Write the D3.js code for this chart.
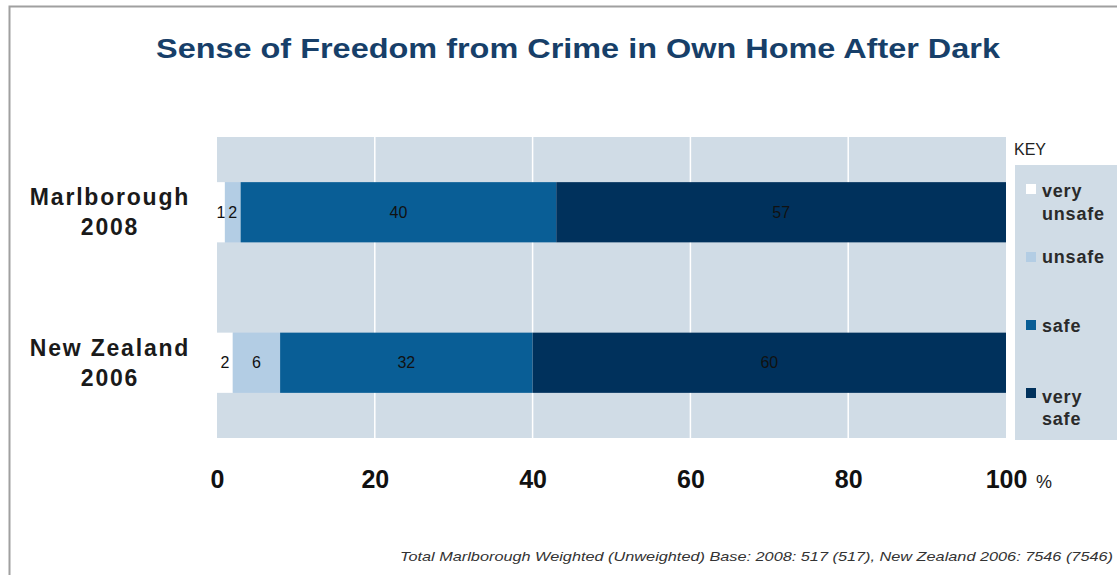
<!DOCTYPE html>
<html>
<head>
<meta charset="utf-8">
<script src="https://cdn.jsdelivr.net/npm/d3@7/dist/d3.min.js"></script>
<style>
  html, body { margin: 0; padding: 0; background: #fff; }
  svg { display: block; font-family: "Liberation Sans", Arial, sans-serif; }
</style>
</head>
<body>
<svg id="chart" width="1117" height="575"></svg>
<script>
// Survey responses (percent of respondents)
const categories = ["Marlborough 2008", "New Zealand 2006"];
const categoryLines = [["Marlborough", "2008"], ["New Zealand", "2006"]];
const seriesNames = ["very unsafe", "unsafe", "safe", "very safe"];
const veryUnsafe = [1, 2];
const unsafe = [2, 6];
const safe = [40, 32];
const verySafe = [57, 60];
const tickValues = [0, 20, 40, 60, 80, 100];
const title = "Sense of Freedom from Crime in Own Home After Dark";
const footnote = "Total Marlborough Weighted (Unweighted) Base: 2008: 517 (517), New Zealand 2006: 7546 (7546)";

const colors = ["#ffffff", "#b3cde4", "#095e96", "#00315c"];
const plotBg = "#d0dce6";

const rows = categories.map((c, i) => ({
  category: c,
  "very unsafe": veryUnsafe[i],
  "unsafe": unsafe[i],
  "safe": safe[i],
  "very safe": verySafe[i]
}));

const svg = d3.select("#chart");

// outer frame (top and left edges)
svg.append("path")
  .attr("d", "M9.5,575 L9.5,6.5 L1117,6.5")
  .attr("fill", "none")
  .attr("stroke", "#a0a0a0")
  .attr("stroke-width", 2);

// title
svg.append("text")
  .attr("x", 156).attr("y", 58)
  .attr("textLength", 844)
  .attr("lengthAdjust", "spacingAndGlyphs")
  .attr("font-size", 27).attr("font-weight", "bold")
  .attr("fill", "#173f69")
  .text(title);

const x = d3.scaleLinear().domain([0, 100]).range([217, 1006]);
const y = d3.scaleBand().domain(categories).range([137, 438])
  .paddingInner(0.6).paddingOuter(0.3);

// plot background
svg.append("rect")
  .attr("x", x(0)).attr("y", 137)
  .attr("width", x(100) - x(0)).attr("height", 438 - 137)
  .attr("fill", plotBg);

// vertical gridlines
svg.append("g").selectAll("line")
  .data(tickValues.filter(t => t > 0 && t < 100))
  .join("line")
  .attr("x1", d => x(d)).attr("x2", d => x(d))
  .attr("y1", 137).attr("y2", 438)
  .attr("stroke", "#ffffff").attr("stroke-width", 1.5);

const stacked = d3.stack().keys(seriesNames)(rows);

// stacked bars
const layers = svg.append("g").selectAll("g")
  .data(stacked)
  .join("g")
  .attr("fill", (d, i) => colors[i]);

layers.selectAll("rect")
  .data(d => d)
  .join("rect")
  .attr("x", d => x(d[0]))
  .attr("y", d => y(d.data.category))
  .attr("width", d => x(d[1]) - x(d[0]))
  .attr("height", y.bandwidth());

// segment value labels
layers.selectAll("text")
  .data(d => d.map(s => ({ s, key: d.key })))
  .join("text")
  .attr("x", d => (x(d.s[0]) + x(d.s[1])) / 2)
  .attr("y", d => y(d.s.data.category) + y.bandwidth() / 2)
  .attr("dy", "0.35em")
  .attr("text-anchor", "middle")
  .attr("font-size", 16)
  .attr("fill", "#111")
  .text(d => d.s.data[d.key]);

// category labels
const catG = svg.append("g");
categories.forEach((c, i) => {
  const cy = y(c) + y.bandwidth() / 2;
  const t = catG.append("text")
    .attr("text-anchor", "middle")
    .attr("font-size", 23).attr("font-weight", "bold")
    .attr("letter-spacing", 1.8)
    .attr("fill", "#1a1a1a");
  t.append("tspan").attr("x", 110).attr("y", cy - 7).text(categoryLines[i][0]);
  t.append("tspan").attr("x", 110).attr("y", cy + 23).text(categoryLines[i][1]);
});

// x axis
const xAxis = d3.axisBottom(x)
  .tickValues(tickValues)
  .tickSize(0)
  .tickPadding(32)
  .tickFormat(d3.format("d"));

const axG = svg.append("g")
  .attr("transform", "translate(0,438)")
  .call(xAxis);
axG.select(".domain").remove();
axG.selectAll("text")
  .attr("font-size", 25).attr("font-weight", "bold")
  .attr("font-family", "'Liberation Sans', Arial, sans-serif")
  .attr("fill", "#111");

svg.append("text")
  .attr("x", 1036).attr("y", 488)
  .attr("font-size", 18)
  .attr("fill", "#222")
  .text("%");

// legend
svg.append("text")
  .attr("x", 1014).attr("y", 155)
  .attr("font-size", 16)
  .attr("fill", "#222")
  .text("KEY");

svg.append("rect")
  .attr("x", 1015).attr("y", 165)
  .attr("width", 120).attr("height", 275)
  .attr("fill", plotBg);

const legendLayout = [
  { sq: 184, lines: [196.5, 220] },
  { sq: 252, lines: [263] },
  { sq: 320, lines: [331.5] },
  { sq: 388, lines: [402.5, 425] }
];

const legG = svg.append("g");
seriesNames.forEach((name, i) => {
  const L = legendLayout[i];
  legG.append("rect")
    .attr("x", 1026).attr("y", L.sq)
    .attr("width", 10).attr("height", 10)
    .attr("fill", colors[i]);
  const words = L.lines.length > 1 ? name.split(" ") : [name];
  const t = legG.append("text")
    .attr("font-size", 18).attr("font-weight", "bold")
    .attr("letter-spacing", 0.8)
    .attr("fill", "#2a2a2a");
  words.forEach((w, k) => {
    t.append("tspan").attr("x", 1042).attr("y", L.lines[k]).text(w);
  });
});

// base note
svg.append("text")
  .attr("x", 400).attr("y", 561)
  .attr("textLength", 713)
  .attr("lengthAdjust", "spacingAndGlyphs")
  .attr("font-size", 13).attr("font-style", "italic")
  .attr("fill", "#333")
  .text(footnote);
</script>
</body>
</html>
